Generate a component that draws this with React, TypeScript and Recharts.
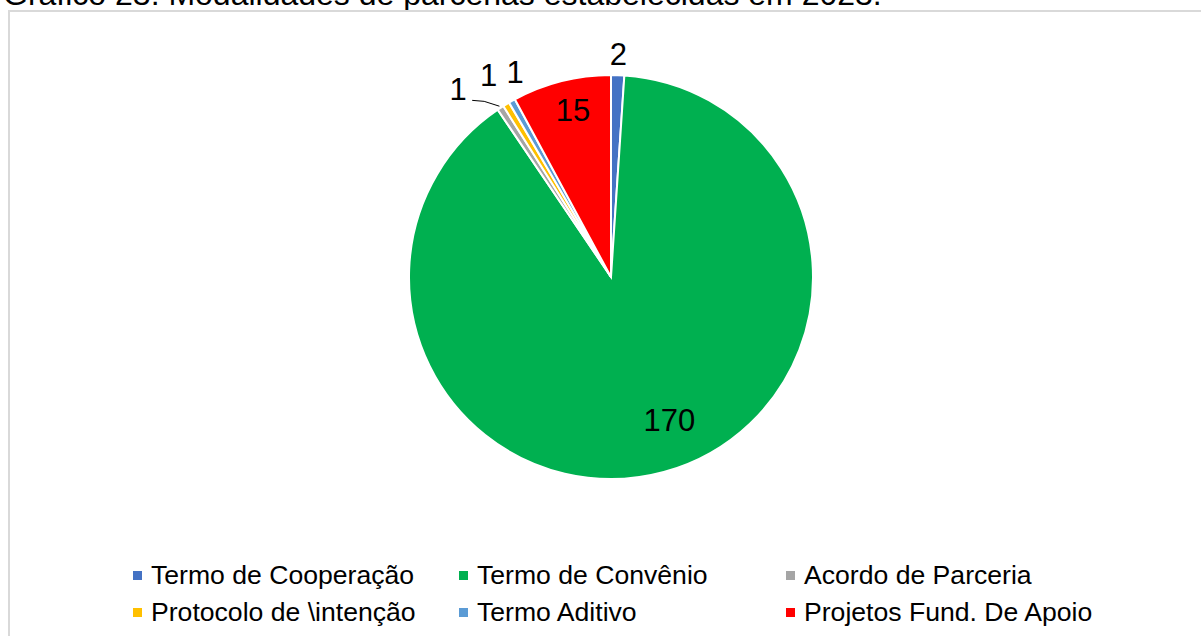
import { Cell, Legend, Pie, PieChart } from "recharts";

const categories = [
  "Termo de Cooperação",
  "Termo de Convênio",
  "Acordo de Parceria",
  "Protocolo de \\intenção",
  "Termo Aditivo",
  "Projetos Fund. De Apoio",
];
const values = [2, 170, 1, 1, 1, 15];
const COLORS = ["#4472C4", "#00B050", "#A5A5A5", "#FFC000", "#5B9BD5", "#FF0000"];

const title = "Gráfico 23: Modalidades de parcerias estabelecidas em 2023.";

const data = categories.map((name, i) => ({ name, value: values[i] }));

// label tweaks: angle nudge (deg, clockwise) and distance from outer edge
const LABEL_SPOT = [
  { nudge: 0, dr: 21 },
  { nudge: -7, dr: -47 },
  { nudge: -6, dr: 40 },
  { nudge: 0, dr: 34 },
  { nudge: 4.3, dr: 24 },
  { nudge: 1.4, dr: -31 },
];

const FONT = "'Liberation Sans', Arial, sans-serif";
const RAD = Math.PI / 180;

const polar = (cx: number, cy: number, r: number, cw: number) => ({
  x: cx + r * Math.sin(cw * RAD),
  y: cy - r * Math.cos(cw * RAD),
});

const renderLabel = (props: any) => {
  const { cx, cy, midAngle, outerRadius, index, value } = props;
  const spot = LABEL_SPOT[index];
  const cw = 90 - midAngle;
  const p = polar(cx, cy, outerRadius + spot.dr, cw + spot.nudge);
  let leader = null;
  if (index === 2) {
    const end = polar(cx, cy, outerRadius + 2, cw);
    const sx = p.x + 14;
    const sy = p.y + 11;
    leader = (
      <polyline
        points={`${sx},${sy} ${sx + 12},${sy + 1} ${end.x},${end.y}`}
        fill="none"
        stroke="#000"
        strokeWidth={1}
      />
    );
  }
  return (
    <g key={`lbl-${index}`}>
      {leader}
      <text
        x={p.x}
        y={p.y}
        textAnchor="middle"
        dominantBaseline="central"
        fill="#000"
        fontSize={31}
        fontFamily={FONT}
      >
        {value}
      </text>
    </g>
  );
};

const COL_X = [133, 459, 786];

// legend drawn straight from the arrays so it keeps the data order
const renderLegend = () => (
  <div style={{ position: "relative", width: 1201, height: 74, fontFamily: FONT, fontSize: 26.6 }}>
    {categories.map((name, i) => (
      <div
        key={`leg-${i}`}
        style={{
          position: "absolute",
          left: COL_X[i % 3],
          top: Math.floor(i / 3) * 37,
          height: 37,
          display: "flex",
          alignItems: "center",
          whiteSpace: "nowrap",
          color: "#000",
        }}
      >
        <span style={{ width: 9, height: 9, background: COLORS[i], marginRight: 9, display: "inline-block" }} />
        {name}
      </div>
    ))}
  </div>
);

export default function App() {
  return (
    <div style={{ position: "absolute", left: 0, top: 0, width: 1201, height: 636, overflow: "hidden", background: "#fff" }}>
      <svg width={1201} height={30} style={{ position: "absolute", left: 0, top: 0 }}>
        <text x={3} y={5} fontSize={32} fontFamily={FONT} fill="#000">
          {title}
        </text>
      </svg>
      <div
        style={{
          position: "absolute",
          left: 8,
          top: 10,
          width: 1220,
          height: 700,
          border: "2px solid #d9d9d9",
          boxSizing: "border-box",
        }}
      />
      <div style={{ position: "absolute", left: 0, top: 0 }}>
        <PieChart width={1201} height={636} margin={{ top: 0, right: 0, bottom: 0, left: 0 }}>
          <Pie
            data={data}
            dataKey="value"
            nameKey="name"
            cx={611}
            cy={277}
            outerRadius={202}
            startAngle={90}
            endAngle={-270}
            stroke="#fff"
            strokeWidth={2}
            label={renderLabel}
            labelLine={false}
            isAnimationActive={false}
          >
            {data.map((_, index) => (
              <Cell key={`cell-${index}`} fill={COLORS[index % COLORS.length]} />
            ))}
          </Pie>
          <Legend
            verticalAlign="bottom"
            content={renderLegend}
            wrapperStyle={{ position: "absolute", left: 0, top: 557, bottom: "auto", width: 1201 }}
          />
        </PieChart>
      </div>
    </div>
  );
}
